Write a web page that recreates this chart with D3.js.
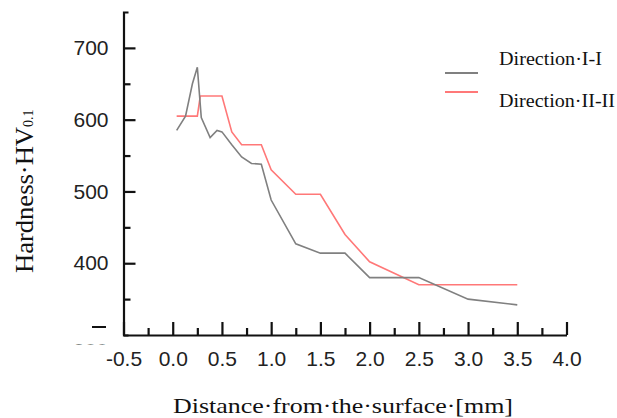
<!DOCTYPE html>
<html>
<head>
<meta charset="utf-8">
<script src="https://cdn.jsdelivr.net/npm/d3@7"></script>
<style>
	body { margin: 0; background: #fff; }
	#container { width: 617px; height: 418px; }
</style>
</head>
<body>
<div id="container"></div>
<script>
// distance from surface [mm] and hardness values
var xDir1 = [0.04, 0.13, 0.2, 0.25, 0.29, 0.38, 0.45, 0.5, 0.6, 0.7, 0.8, 0.9, 1.0, 1.25, 1.5, 1.75, 2.0, 2.5, 3.0, 3.5];
var yDir1 = [585, 605, 650, 673, 603, 575, 585, 583, 565, 548, 539, 538, 488, 427, 414, 414, 380, 380, 350, 342];

var xDir2 = [0.04, 0.25, 0.28, 0.5, 0.6, 0.7, 0.9, 1.0, 1.25, 1.5, 1.75, 2.0, 2.5, 3.0, 3.5];
var yDir2 = [605, 605, 633, 633, 583, 565, 565, 530, 496, 496, 440, 402, 370, 370, 370];

var seriesNames = ['Direction\u00b7I-I', 'Direction\u00b7II-II'];
var seriesColors = ['#808080', '#ff7878'];

var xTicks = [-0.5, 0, 0.5, 1, 1.5, 2, 2.5, 3, 3.5, 4];
var xMinor = [-0.25, 0.25, 0.75, 1.25, 1.75, 2.25, 2.75, 3.25, 3.75];
var yTicks = [400, 500, 600, 700];
var yMinor = [350, 450, 550, 650];

var width = 617, height = 418;

var svg = d3.select('#container').append('svg')
	.attr('width', width)
	.attr('height', height);

var x = d3.scaleLinear().domain([-0.5, 4.0]).range([123.5, 566.5]);
var y = d3.scaleLinear().domain([300, 750]).range([335, 12]);

var tickFont = 'Liberation Sans, Arial, sans-serif';
var serif = 'Liberation Serif, Times New Roman, serif';

// minor ticks first
svg.append('g')
	.attr('transform', 'translate(0,' + y(300) + ')')
	.call(d3.axisBottom(x).tickValues(xMinor).tickSize(-7).tickFormat(''))
	.call(function(s) { s.select('.domain').remove(); });

svg.append('g')
	.attr('transform', 'translate(' + x(-0.5) + ',0)')
	.call(d3.axisLeft(y).tickValues(yMinor).tickSize(-7).tickFormat(''))
	.call(function(s) { s.select('.domain').remove(); });

var gx = svg.append('g')
	.attr('transform', 'translate(0,' + y(300) + ')')
	.call(d3.axisBottom(x).tickValues(xTicks).tickSize(-13).tickSizeOuter(0).tickPadding(16)
		.tickFormat(function(d) { return d.toFixed(1); }));

var gy = svg.append('g')
	.attr('transform', 'translate(' + x(-0.5) + ',0)')
	.call(d3.axisLeft(y).tickValues(yTicks).tickSize(-12).tickSizeOuter(-5).tickPadding(15)
		.tickFormat(d3.format('d')));

svg.selectAll('.tick line, .domain')
	.attr('stroke', '#111')
	.attr('stroke-width', 2.2);

svg.selectAll('.tick text')
	.style('font-family', tickFont)
	.style('font-size', '21px')
	.attr('fill', '#222');

// clipped remains of the bottom label
var clip = svg.append('clipPath').attr('id', 'cut');
clip.append('rect').attr('x', 70).attr('y', 342).attr('width', 40).attr('height', 2.5);

svg.append('text')
	.attr('x', 108)
	.attr('y', 358)
	.attr('text-anchor', 'end')
	.attr('clip-path', 'url(#cut)')
	.style('font-family', tickFont)
	.style('font-size', '21px')
	.attr('fill', '#222')
	.text('300');

svg.append('line')
	.attr('x1', 92).attr('x2', 106)
	.attr('y1', 327).attr('y2', 327)
	.attr('stroke', '#111')
	.attr('stroke-width', 2);

// lines
var line = d3.line()
	.x(function(d) { return x(d[0]); })
	.y(function(d) { return y(d[1]); });

var data1 = d3.zip(xDir1, yDir1);
var data2 = d3.zip(xDir2, yDir2);

svg.append('path')
	.datum(data2)
	.attr('d', line)
	.attr('fill', 'none')
	.attr('stroke', seriesColors[1])
	.attr('stroke-width', 1.6);

svg.append('path')
	.datum(data1)
	.attr('d', line)
	.attr('fill', 'none')
	.attr('stroke', seriesColors[0])
	.attr('stroke-width', 1.6);

// legend
var legY = [73, 92];
var legTextY = [65, 107];
var legLen = [103, 116];

seriesNames.forEach(function(name, i) {
	svg.append('line')
		.attr('x1', 445).attr('x2', 478)
		.attr('y1', legY[i]).attr('y2', legY[i])
		.attr('stroke', seriesColors[i])
		.attr('stroke-width', 2);

	svg.append('text')
		.attr('x', 499)
		.attr('y', legTextY[i])
		.attr('textLength', legLen[i])
		.attr('lengthAdjust', 'spacingAndGlyphs')
		.style('font-family', serif)
		.style('font-size', '18px')
		.attr('fill', '#111')
		.text(name);
});

// axis titles
svg.append('text')
	.attr('x', 173)
	.attr('y', 413)
	.attr('textLength', 340)
	.attr('lengthAdjust', 'spacingAndGlyphs')
	.style('font-family', serif)
	.style('font-size', '22px')
	.attr('fill', '#111')
	.text('Distance\u00b7from\u00b7the\u00b7surface\u00b7[mm]');

var yt = svg.append('text')
	.attr('transform', 'translate(33,273) rotate(-90)')
	.style('font-family', serif)
	.attr('fill', '#111');

yt.append('tspan')
	.style('font-size', '25px')
	.attr('textLength', 146)
	.attr('lengthAdjust', 'spacingAndGlyphs')
	.text('Hardness\u00b7HV');

yt.append('tspan')
	.style('font-size', '14px')
	.text('0.1');
</script>
</body>
</html>
